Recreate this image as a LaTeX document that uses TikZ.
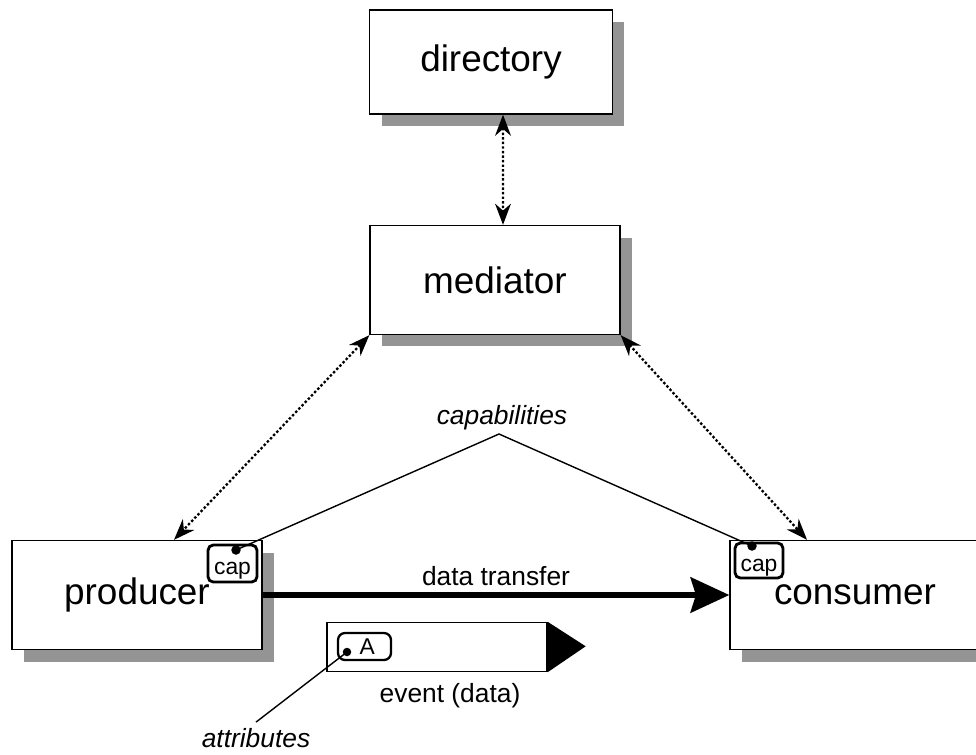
\documentclass[tikz,border=0pt]{standalone}
\usepackage{fontspec}
\setmainfont{Liberation Sans}
\usepackage{tikz}
\usetikzlibrary{positioning,shadows,arrows.meta}

\begin{document}
\begin{tikzpicture}[
    x=0.02cm, y=-0.02cm,
    box/.style={rectangle, draw=black, line width=0.8pt, fill=white, minimum width=5cm, minimum height=2.18cm, align=center, font=\fontsize{21}{25}\selectfont,
      drop shadow={shadow xshift=0.24cm, shadow yshift=-0.24cm, fill=black!42, opacity=1}},
    capbox/.style={rectangle, draw=black, line width=1.6pt, rounded corners=3pt, fill=white, inner sep=0pt, font=\fontsize{13}{15}\selectfont},
    dot/.style={circle, fill=black, inner sep=0pt, minimum size=0.19cm},
    dotarrow/.style={{Stealth[length=12pt,width=9pt]}-{Stealth[length=12pt,width=9pt]}, line width=1.3pt, dash pattern=on 1.4pt off 1.2pt},
    flow/.style={-{Stealth[length=22pt,width=20pt,inset=3pt]}, line width=3.4pt},
    lbl/.style={font=\fontsize{15}{18}\selectfont},
]
\useasboundingbox (0,0) rectangle (976,754);

% the four parties
\node[box, minimum width=4.86cm, minimum height=2.08cm] (directory) at (491,62) {directory};
\node[box] (mediator) at (495,280) {mediator};
\node[box] (producer) at (137,595) {producer};
\node[box] (consumer) at (855,595) {consumer};

% capability tags
\node[capbox, text height=8.5pt, text depth=2.8pt, minimum width=0.98cm, minimum height=0.74cm] (pcap) at (232.5,563.5) {\raisebox{-3.5pt}{cap}};
\node[capbox, text height=8.5pt, text depth=2.8pt, minimum width=0.96cm, minimum height=0.70cm] (ccap) at (759,560.5) {\raisebox{-3.5pt}{cap}};
\node[dot] (pdot) at (236,550) {};
\node[dot] (cdot) at (752,546) {};

% the event
\node[rectangle, draw=black, line width=0.8pt, minimum width=4.4cm, minimum height=0.98cm] (event) at (437,647) {};
\fill (event.north east) -- ++(38,24.5) -- (event.south east) -- cycle;
\node[capbox, line width=1.3pt, rounded corners=4pt, minimum width=1.06cm, minimum height=0.54cm] (attr) at (364.5,646.5) {\hspace{3pt}A};
\node[dot, minimum size=0.17cm] (adot) at (347,652) {};
\node[lbl] (evlbl) at (450,696) {event (data)};
\node[lbl, font=\fontsize{15}{18}\selectfont\itshape] (attrlbl) at (256,738) {attributes};

% labels
\node[lbl, font=\fontsize{15}{18}\selectfont\itshape] (caplbl) at (502,418) {capabilities};
\coordinate (apex) at (499,434);

% mediation links
\draw[dotarrow] ([xshift=0.24cm]directory.south) -- ([xshift=0.16cm]mediator.north);
\draw[dotarrow] (mediator.south west) -- ([xshift=0.74cm]producer.north);
\draw[dotarrow] (mediator.south east) -- ([xshift=-0.96cm]consumer.north);

% capabilities
\draw[line width=0.8pt] (pdot.center) -- (apex) -- (cdot.center);
\draw[line width=0.8pt] (adot.center) -- (attrlbl.north);

% data transfer
\draw[flow] (producer.east) -- node[lbl, above=0pt] (xferlbl) {data transfer} (consumer.west);
\end{tikzpicture}
\end{document}
